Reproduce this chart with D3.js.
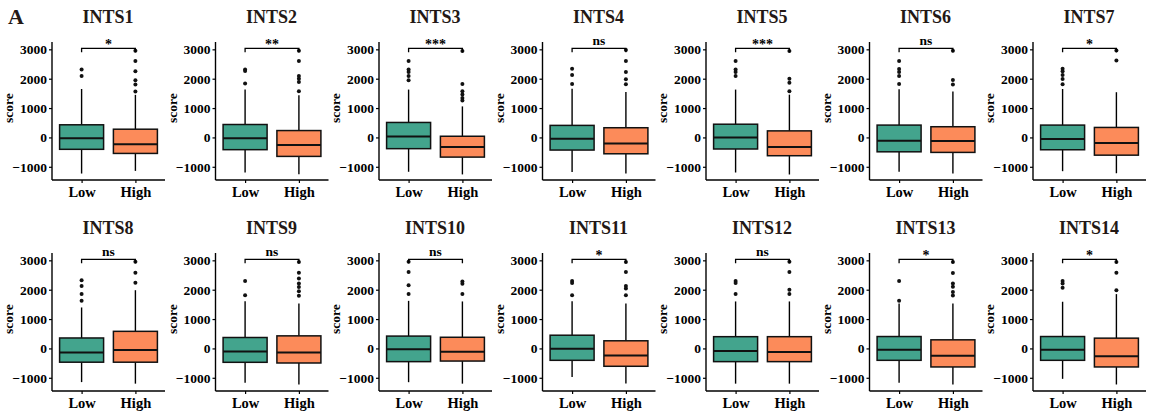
<!DOCTYPE html>
<html><head><meta charset="utf-8">
<script src="https://cdn.jsdelivr.net/npm/d3@7"></script>
<style>body{margin:0;background:#fff}svg{display:block}text{font-family:"Liberation Serif","Times New Roman",serif;font-weight:bold}</style>
</head><body><svg id="c" width="1154" height="411"></svg>
<script>
const genes=["INTS1","INTS2","INTS3","INTS4","INTS5","INTS6","INTS7","INTS8","INTS9","INTS10","INTS11","INTS12","INTS13","INTS14"];
const signif=["*","**","***","ns","***","ns","*","ns","ns","ns","*","ns","*","*"];
const groups=["Low","High"];
const yTicks=[-1000,0,1000,2000,3000];
// Low group stats
const lowMin=[-1230,-1195,-1170,-1180,-1195,-1170,-1150,-1147,-1172,-1150,-970,-1200,-1172,-1036];
const lowQ1=[-405,-417,-383,-430,-394,-490,-420,-469,-473,-450,-405,-450,-405,-405];
const lowMed=[-30,-30,30,-45,-5,-115,-57,-141,-101,-30,-11,-90,-45,-45];
const lowQ3=[430,440,510,410,450,420,420,356,372,420,450,400,405,405];
const lowMax=[1650,1630,1630,1660,1630,1640,1650,1395,1610,1620,1610,1600,1532,1590];
const lowOut=[[2310,2090],[2310,2260,1835],[2600,2310,2230,2090,1950],[2340,2125,1820],[2600,2310,2230,2090],[2600,2330,2230,2090,1820],[2340,2250,2130,1990,1810],[2320,2130,1850,1620],[2300,1815],[2950,2600,2150,1850],[2300,2230,1815],[2300,2230,1850],[2300,1620],[2300,2210,2070]];
// High group stats
const highMin=[-1140,-1250,-1260,-1230,-1263,-1230,-1220,-1200,-1228,-1200,-1194,-1200,-1228,-1228];
const highQ1=[-545,-646,-670,-557,-623,-510,-604,-469,-496,-430,-608,-450,-631,-631];
const highMed=[-235,-257,-325,-205,-325,-125,-194,-51,-135,-110,-237,-120,-248,-270];
const highQ3=[280,234,40,330,223,364,340,582,428,380,260,400,293,350];
const highMax=[1450,1434,1057,1545,1457,1560,1540,1983,1532,1600,1530,1600,1532,1850];
const highOut=[[2950,2600,2250,1950,1800,1560],[2950,2600,2090,2000,1890,1570],[2940,1820,1570,1460,1340,1260],[2980,2600,2230,1980,1810],[2940,2000,1860,1570],[2950,1955,1800],[2960,2620],[2955,2580,2240],[2940,2580,2380,2210,2095,1950,1790],[2280,2200,1850],[2940,2600,2130,2040,1815],[2950,2600,2000,1850],[2940,2570,2210,2100,1925,1800],[2940,2580,1980]];
const colors={Low:"#43a48d",High:"#fc8b5a"};

const svg=d3.select("#c");
svg.append("text").attr("x",8).attr("y",24).attr("font-size",22).attr("fill","#231815").text("A");
const y=d3.scaleLinear().domain([-1450,3250]).range([180,42]);
const x=d3.scalePoint().domain(groups).range([0,113]).padding(0.55);
const bw=44;

genes.forEach((g,i)=>{
  const col=i%7,row=Math.floor(i/7);
  const p=svg.append("g").attr("transform",`translate(${52+col*163.5},${row*211})`);
  const stats={
    Low:{min:lowMin[i],q1:lowQ1[i],med:lowMed[i],q3:lowQ3[i],max:lowMax[i],out:lowOut[i]},
    High:{min:highMin[i],q1:highQ1[i],med:highMed[i],q3:highQ3[i],max:highMax[i],out:highOut[i]}
  };
  p.append("text").attr("x",56).attr("y",23).attr("text-anchor","middle").attr("font-size",18).attr("fill","#231815").text(g);
  const ya=p.append("g").call(d3.axisLeft(y).tickValues(yTicks).tickSize(3).tickPadding(2).tickFormat(d=>d<0?"\u2212"+Math.abs(d):d));
  ya.select(".domain").attr("stroke-width",1.4).attr("d",`M0,${y.range()[0]}V${y.range()[1]}`);
  ya.selectAll(".tick line").attr("stroke-width",1.2);
  ya.selectAll("text").attr("font-size",13.5).attr("fill","#000").style("font-family","Liberation Serif").style("font-weight","bold");
  const xa=p.append("g").attr("transform",`translate(0,${y.range()[0]})`).call(d3.axisBottom(x).tickSize(3).tickPadding(4));
  xa.select(".domain").attr("stroke-width",1.4).attr("d","M0,0H113");
  xa.selectAll(".tick line").attr("stroke-width",1.2);
  xa.selectAll("text").attr("font-size",14.5).attr("fill","#000").style("font-family","Liberation Serif").style("font-weight","bold");
  p.append("text").attr("transform",`translate(-39,${y(1000)}) rotate(-90)`).attr("text-anchor","middle").attr("font-size",13.5).text("score");
  groups.forEach(k=>{
    const s=stats[k],cx=x(k);
    p.append("line").attr("x1",cx).attr("x2",cx).attr("y1",y(s.min)).attr("y2",y(s.q1)).attr("stroke","#000").attr("stroke-width",1.4);
    p.append("line").attr("x1",cx).attr("x2",cx).attr("y1",y(s.q3)).attr("y2",y(s.max)).attr("stroke","#000").attr("stroke-width",1.4);
    p.append("rect").attr("x",cx-bw/2).attr("width",bw).attr("y",y(s.q3)).attr("height",y(s.q1)-y(s.q3)).attr("fill",colors[k]).attr("stroke","#111").attr("stroke-width",1.5);
    p.append("line").attr("x1",cx-bw/2).attr("x2",cx+bw/2).attr("y1",y(s.med)).attr("y2",y(s.med)).attr("stroke","#111").attr("stroke-width",2);
    p.selectAll(null).data(s.out).enter().append("circle").attr("cx",cx).attr("cy",d=>y(d)).attr("r",2).attr("fill","#111");
  });
  const x1=x("Low"),x2=x("High");
  p.append("path").attr("d",`M${x1},${y(2900)}V${y(3030)}H${x2}V${y(2900)}`).attr("fill","none").attr("stroke","#000").attr("stroke-width",1.3);
  p.append("text").attr("x",(x1+x2)/2).attr("y",y(signif[i]==="ns"?3140:3000)).attr("text-anchor","middle").attr("font-size",signif[i]==="ns"?13.5:14).attr("fill","#000").text(signif[i]);
});
</script></body></html>
